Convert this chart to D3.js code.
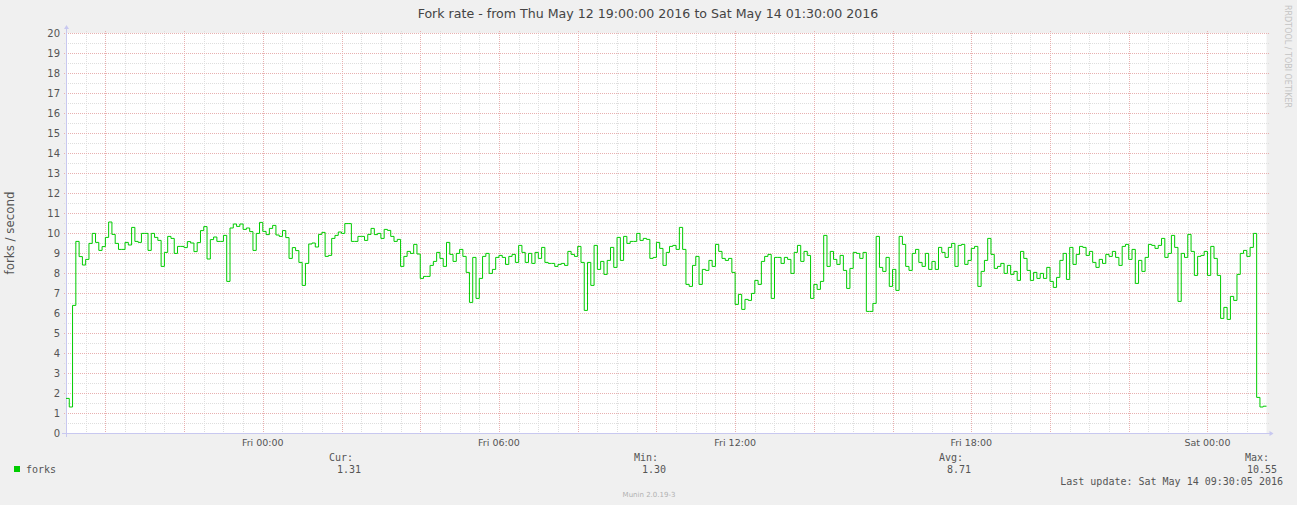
<!DOCTYPE html>
<html><head><meta charset="utf-8">
<script src="https://cdn.jsdelivr.net/npm/d3@7/dist/d3.min.js"></script>
<style>
html,body{margin:0;padding:0;background:#f0f0f0;}
svg{display:block;}
</style>
</head><body>
<svg id="chart" width="1297" height="505"></svg>
<script>
// ---------------- data ----------------
const titleText = "Fork rate - from Thu May 12 19:00:00 2016 to Sat May 14 01:30:00 2016";
const yAxisLabel = "forks / second";
const startTime = new Date(2016, 4, 12, 19, 0, 0);
const endTime = new Date(2016, 4, 14, 1, 30, 0);
const stepMinutes = 5;
const seriesName = "forks";
// forks per second, one value per 5-minute step starting Thu 19:00
const forks = [
1.73,1.30,6.38,9.58,8.82,8.40,8.68,9.48,9.98,9.53,9.13,9.32,9.78,10.55,9.93,9.48,9.18,9.18,9.53,9.40,
10.28,9.58,9.53,9.98,9.98,9.13,9.98,9.78,9.63,8.33,9.03,9.83,9.73,8.98,9.33,9.33,9.27,9.57,9.50,9.07,
9.52,10.12,10.32,8.70,9.67,9.80,9.58,9.58,9.88,7.58,10.25,10.45,10.33,10.45,10.18,10.25,10.07,9.13,9.98,10.53,
10.08,9.92,10.23,10.38,9.90,9.83,10.12,9.77,8.73,9.27,9.12,8.53,7.38,8.48,9.45,9.50,9.30,9.93,10.03,8.83,
8.88,9.73,9.88,10.05,9.98,10.47,10.47,9.58,9.58,9.83,9.83,9.63,9.93,10.23,9.92,9.98,9.73,10.18,10.13,9.83,
9.58,9.68,8.33,8.83,9.08,8.98,9.43,8.95,7.73,7.83,7.83,8.38,8.58,9.03,8.73,8.33,9.53,8.93,8.58,8.98,
9.18,8.83,8.03,6.53,8.78,6.73,7.73,8.83,8.98,7.98,8.18,8.78,8.88,8.78,8.43,8.83,8.93,8.53,9.38,9.03,
8.53,8.98,8.48,9.03,8.73,9.28,8.53,8.48,8.48,8.33,8.43,8.48,8.38,9.08,8.93,8.83,9.33,8.53,6.13,8.53,
7.38,9.38,8.18,8.58,7.93,8.63,9.28,8.28,9.78,8.63,9.83,9.48,9.58,9.58,9.98,9.63,9.73,9.68,8.73,8.78,
9.53,9.23,8.38,9.03,9.33,9.38,9.18,10.28,9.18,7.43,7.33,8.38,8.83,7.43,8.18,8.13,8.63,8.33,9.43,9.08,
8.73,8.63,8.73,8.03,6.43,6.93,6.18,6.68,6.63,6.98,7.63,7.43,8.58,8.83,8.93,6.73,8.78,8.78,8.48,8.78,
8.68,7.98,9.03,9.38,8.58,9.08,8.88,6.73,7.43,7.18,7.58,9.88,8.33,9.08,8.68,8.43,8.88,8.13,7.23,8.23,
9.03,8.98,8.73,9.03,6.08,6.08,6.48,9.83,8.28,8.08,8.78,7.33,8.18,7.13,9.83,9.43,8.33,8.13,8.98,9.18,
8.53,8.33,8.98,8.18,8.58,8.18,9.28,9.03,8.78,9.28,9.48,8.33,9.38,9.43,8.43,8.63,9.23,9.33,7.33,8.08,
8.63,9.73,8.93,8.23,8.33,8.48,7.98,8.38,7.93,8.08,7.63,9.08,8.73,8.13,7.63,8.03,7.73,7.98,7.73,8.28,
7.58,7.28,7.78,8.63,8.98,7.68,9.28,8.43,8.93,9.33,9.28,8.88,9.08,8.53,8.28,8.68,8.48,8.93,8.83,9.08,
8.78,8.38,9.33,9.43,8.68,9.18,7.48,8.63,8.08,8.78,9.43,9.38,9.23,9.38,9.73,8.78,8.98,9.88,9.28,6.58,
8.98,8.78,9.93,9.08,7.88,8.83,8.88,9.08,7.88,9.33,8.73,7.88,5.73,6.28,5.68,6.83,6.63,7.93,8.98,9.13,
8.83,9.28,9.98,1.78,1.30,1.34
];
const yDomain = [0, 20];
const yTickValues = [0,1,2,3,4,5,6,7,8,9,10,11,12,13,14,15,16,17,18,19,20];
const xTickLabels = ["Fri 00:00","Fri 06:00","Fri 12:00","Fri 18:00","Sat 00:00"];
const xTickTimes = [
  new Date(2016,4,13,0,0), new Date(2016,4,13,6,0), new Date(2016,4,13,12,0),
  new Date(2016,4,13,18,0), new Date(2016,4,14,0,0)
];
const statLabels = ["Cur:", "Min:", "Avg:", "Max:"];
const statValues = ["1.31", "1.30", "8.71", "10.55"];
const lastUpdateText = "Last update: Sat May 14 09:30:05 2016";
const footerText = "Munin 2.0.19-3";
const watermarkText = "RRDTOOL / TOBI OETIKER";

// ---------------- layout ----------------
const svg = d3.select("#chart");
const L = 66, R = 1266.5, T = 33, B = 433;
const x = d3.scaleTime().domain([startTime, endTime]).range([L, R]);
const y = d3.scaleLinear().domain(yDomain).range([B, T]);

const fontSans = "'DejaVu Sans', sans-serif";
const fontMono = "'DejaVu Sans Mono', monospace";

// canvas
svg.append("rect").attr("x", L).attr("y", T).attr("width", R - L).attr("height", B - T).attr("fill", "#ffffff");

// grid
const gGrid = svg.append("g").attr("shape-rendering", "crispEdges");
const minorY = d3.range(yDomain[0] * 2, yDomain[1] * 2 + 1).map(d => d / 2).filter(v => v % 1 !== 0);
gGrid.selectAll("line.hy").data(minorY).join("line")
  .attr("x1", L - 2).attr("x2", R + 2)
  .attr("y1", d => Math.round(y(d)) + 0.5).attr("y2", d => Math.round(y(d)) + 0.5)
  .attr("stroke", "#dedede").attr("stroke-dasharray", "1,1");
const minorX = d3.timeMinute.every(30).range(startTime, endTime).filter(t => t > startTime);
const isMajor = t => t.getMinutes() === 0 && t.getHours() % 2 === 0;
gGrid.selectAll("line.vx").data(minorX.filter(t => !isMajor(t))).join("line")
  .attr("x1", d => Math.round(x(d)) + 0.5).attr("x2", d => Math.round(x(d)) + 0.5)
  .attr("y1", T - 2).attr("y2", B + 2)
  .attr("stroke", "#dedede").attr("stroke-dasharray", "1,1");
gGrid.selectAll("line.my").data(yTickValues).join("line")
  .attr("x1", L - 2).attr("x2", R + 2)
  .attr("y1", d => Math.round(y(d)) + 0.5).attr("y2", d => Math.round(y(d)) + 0.5)
  .attr("stroke", "#e8b0b0").attr("stroke-dasharray", "1,1");
gGrid.selectAll("line.mx").data(minorX.filter(isMajor)).join("line")
  .attr("x1", d => Math.round(x(d)) + 0.5).attr("x2", d => Math.round(x(d)) + 0.5)
  .attr("y1", T - 2).attr("y2", B + 2)
  .attr("stroke", "#e8b0b0").attr("stroke-dasharray", "1,1");

// axes lines with arrows
const axisColor = "#c8c8f0";
svg.append("line").attr("x1", L - 4).attr("x2", R + 3).attr("y1", B + 0.5).attr("y2", B + 0.5)
  .attr("stroke", axisColor).attr("shape-rendering", "crispEdges");
svg.append("line").attr("x1", L + 0.5).attr("x2", L + 0.5).attr("y1", B + 4).attr("y2", T - 4)
  .attr("stroke", axisColor).attr("shape-rendering", "crispEdges");
svg.append("path").attr("d", `M${R + 3},${B - 2} L${R + 7},${B + 0.5} L${R + 3},${B + 3} Z`).attr("fill", axisColor);
svg.append("path").attr("d", `M${L - 2},${T - 4} L${L + 0.5},${T - 8} L${L + 3},${T - 4} Z`).attr("fill", axisColor);

// y tick labels
svg.append("g").selectAll("text").data(yTickValues).join("text")
  .attr("x", L - 6).attr("y", d => y(d) + 3.5)
  .attr("text-anchor", "end").attr("font-family", fontSans).attr("font-size", 10)
  .attr("fill", "#555555").text(d => d);

// x tick labels
svg.append("g").selectAll("text").data(xTickTimes).join("text")
  .attr("x", d => x(d)).attr("y", B + 13)
  .attr("text-anchor", "middle").attr("font-family", fontSans).attr("font-size", 9.5)
  .attr("fill", "#555555").text((d, i) => xTickLabels[i]);

// data line
const pts = forks.map((v, i) => ({ t: d3.timeMinute.offset(startTime, i * stepMinutes), v }));
pts.push({ t: endTime, v: forks[forks.length - 1] });
const line = d3.line().x(d => x(d.t)).y(d => y(d.v)).curve(d3.curveStepAfter);
svg.append("path").datum(pts).attr("d", line)
  .attr("fill", "none").attr("stroke", "#00cc00").attr("stroke-width", 1);

// title
svg.append("text").attr("x", 648).attr("y", 18).attr("text-anchor", "middle")
  .attr("font-family", fontSans).attr("font-size", 12.6).attr("fill", "#444444").text(titleText);

// y-axis label
svg.append("text").attr("transform", "translate(14,233) rotate(-90)").attr("text-anchor", "middle")
  .attr("font-family", fontSans).attr("font-size", 11.8).attr("fill", "#555555").text(yAxisLabel);

// watermark
svg.append("text").attr("transform", "translate(1285,5) rotate(90)").attr("text-anchor", "start")
  .attr("font-family", fontSans).attr("font-size", 8).attr("fill", "#c4c4c4").text(watermarkText);

// legend
svg.append("rect").attr("x", 14).attr("y", 466).attr("width", 6).attr("height", 6).attr("fill", "#00cc00");
svg.append("text").attr("x", 26).attr("y", 473).attr("font-family", fontMono).attr("font-size", 10)
  .attr("fill", "#555555").text(seriesName);
const statX = [353, 658, 963, 1269];
svg.append("g").selectAll("text").data(statLabels).join("text")
  .attr("x", (d, i) => statX[i]).attr("y", 461).attr("text-anchor", "end")
  .attr("font-family", fontMono).attr("font-size", 10).attr("fill", "#555555").text(d => d);
svg.append("g").selectAll("text").data(statValues).join("text")
  .attr("x", (d, i) => statX[i] + 8).attr("y", 473).attr("text-anchor", "end")
  .attr("font-family", fontMono).attr("font-size", 10).attr("fill", "#555555").text(d => d);
svg.append("text").attr("x", 1283).attr("y", 485).attr("text-anchor", "end")
  .attr("font-family", fontMono).attr("font-size", 10).attr("fill", "#555555").text(lastUpdateText);
svg.append("text").attr("x", 649).attr("y", 497).attr("text-anchor", "middle")
  .attr("font-family", fontSans).attr("font-size", 7).attr("fill", "#b0b0b0").text(footerText);
</script>
</body></html>
